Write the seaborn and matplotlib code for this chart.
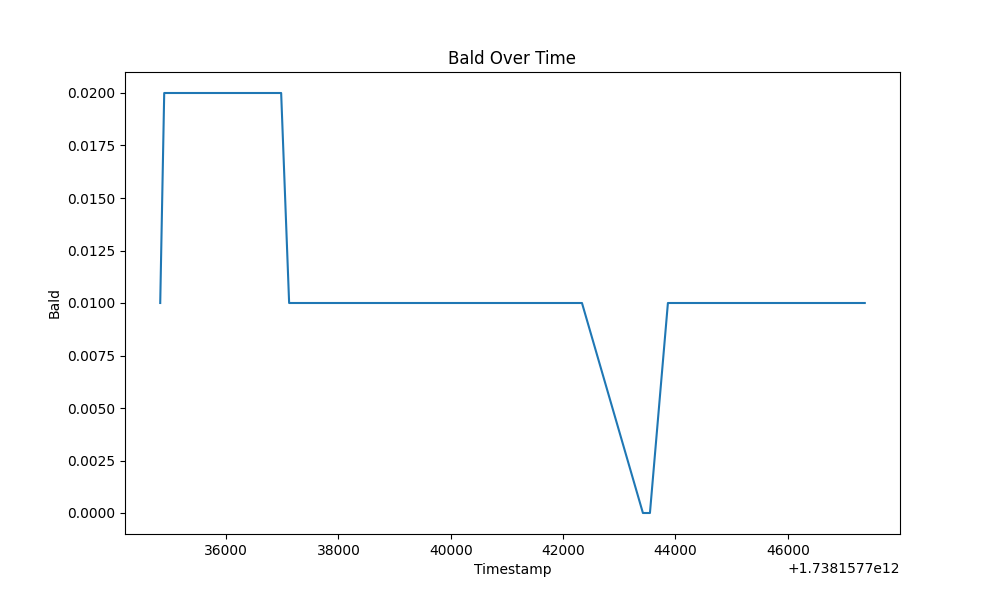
import matplotlib
matplotlib.use("Agg")
import matplotlib.pyplot as plt
import seaborn as sns
import pandas as pd
import numpy as np

base = 1.7381577e12
offsets = [34826, 34897, 36979, 37121, 42335, 43420, 43545, 43865, 47370]
bald = [0.01, 0.02, 0.02, 0.01, 0.01, 0.0, 0.0, 0.01, 0.01]

df = pd.DataFrame({"Timestamp": np.array(offsets, dtype=float) + base, "Bald": bald})

fig, ax = plt.subplots(figsize=(10, 6), dpi=100)
sns.lineplot(data=df, x="Timestamp", y="Bald", ax=ax, color="#1f77b4")
ax.set_title("Bald Over Time")
ax.set_xlabel("Timestamp")
ax.set_ylabel("Bald")
fig.savefig("out.png", dpi=100)
